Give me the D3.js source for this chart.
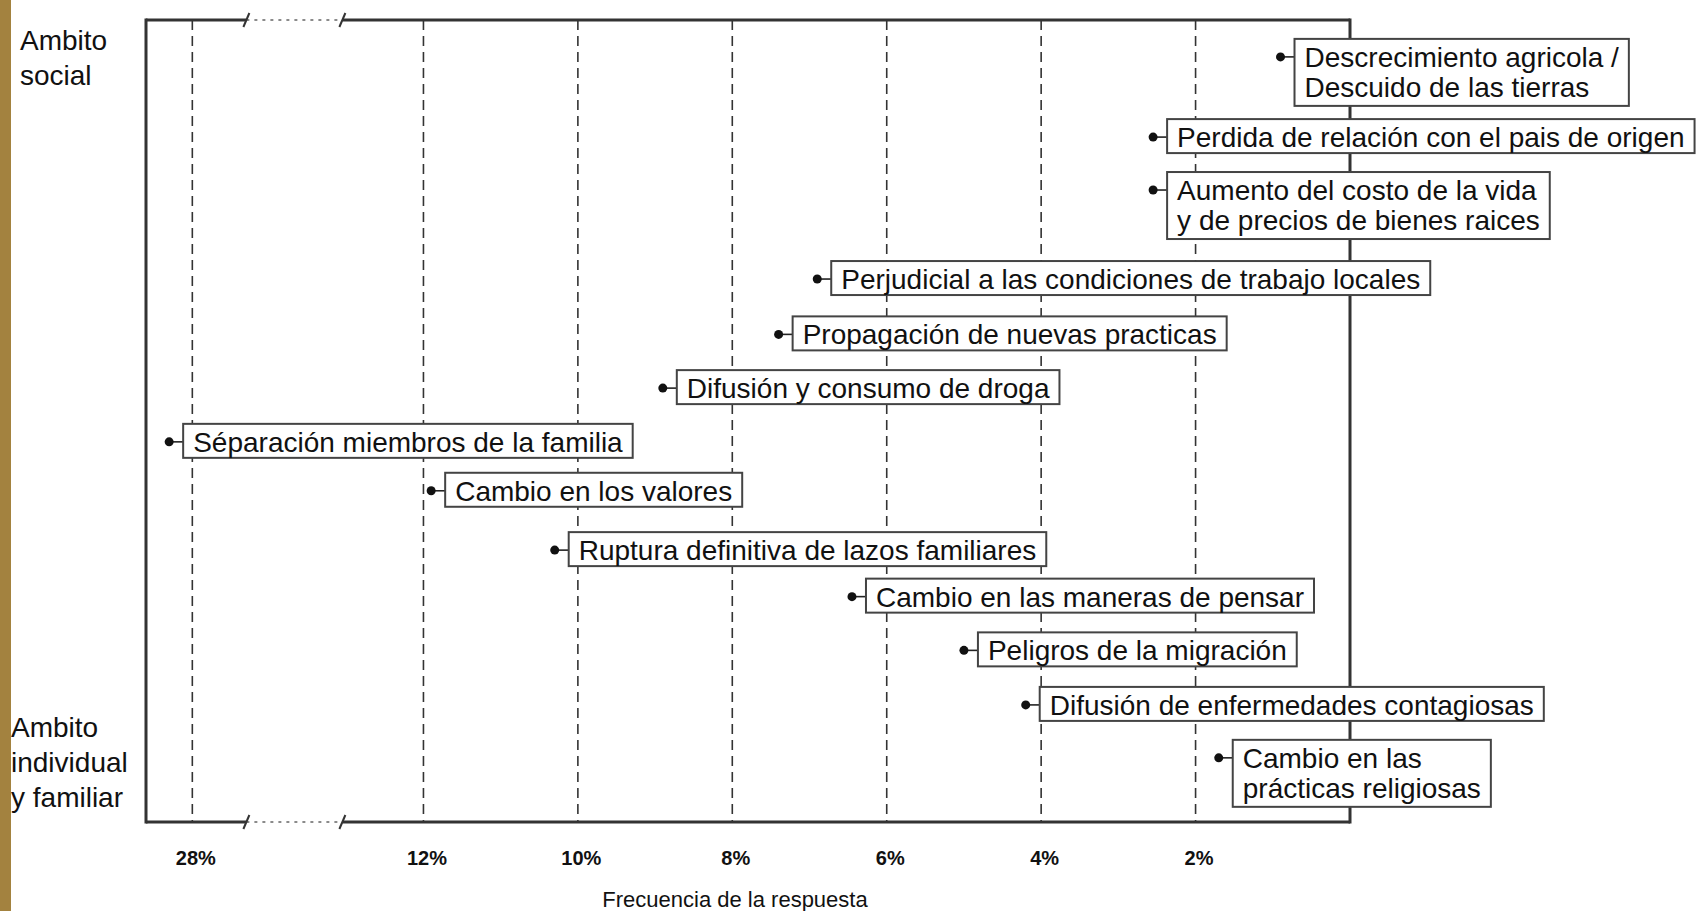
<!DOCTYPE html>
<html>
<head>
<meta charset="utf-8">
<title>Frecuencia de la respuesta</title>
<script src="https://d3js.org/d3.v7.min.js"></script>
<style>
  body { margin: 0; background: #fff; }
  text { font-family: "Liberation Sans", Arial, Helvetica, sans-serif; fill: #111; }
</style>
</head>
<body>
<script>
var width = 1700, height = 911

// texto de cada respuesta, una entrada por linea
var labels = [
  ["Descrecimiento agricola /", "Descuido de las tierras"],
  ["Perdida de relación con el pais de origen"],
  ["Aumento del costo de la vida", "y de precios de bienes raices"],
  ["Perjudicial a las condiciones de trabajo locales"],
  ["Propagación de nuevas practicas"],
  ["Difusión y consumo de droga"],
  ["Séparación miembros de la familia"],
  ["Cambio en los valores"],
  ["Ruptura definitiva de lazos familiares"],
  ["Cambio en las maneras de pensar"],
  ["Peligros de la migración"],
  ["Difusión de enfermedades contagiosas"],
  ["Cambio en las", "prácticas religiosas"]
]
// frecuencia de la respuesta (%)
var freq = [0.9, 2.55, 2.55, 6.9, 7.4, 8.9, 28.3, 11.9, 10.3, 6.45, 5.0, 4.2, 1.7]
// posicion entre ambito social (0) y ambito individual y familiar (100)
var ambito = [4.6, 14.6, 21.2, 32.3, 39.2, 45.9, 52.6, 58.7, 66.1, 71.9, 78.6, 85.4, 92.0]

var ticks = [28, 12, 10, 8, 6, 4, 2]
var tickLabels = ["28%", "12%", "10%", "8%", "6%", "4%", "2%"]
var corte = [27.3, 13.05]   // tramo del eje omitido
var limite = 28.6

var mLeft = 146, mRight = 1350, mTop = 20, mBottom = 822, gap = 96

var unit = (mRight - mLeft - gap) / (limite - corte[0] + corte[1])
var b1 = mLeft + (limite - corte[0]) * unit, b2 = b1 + gap
var x = d3.scaleLinear()
  .domain([limite, corte[0], corte[1], 0])
  .range([mLeft, b1, b2, mRight])
var y = d3.scaleLinear().domain([0, 100]).range([mTop, mBottom])

var svg = d3.select("body").append("svg")
  .attr("width", width)
  .attr("height", height)

svg.append("rect").attr("width", width).attr("height", height).attr("fill", "#fff")

// lineas guia
svg.append("g").selectAll("line")
  .data(ticks)
  .enter().append("line")
    .attr("x1", d => x(d)).attr("x2", d => x(d))
    .attr("y1", mTop).attr("y2", mBottom)
    .attr("stroke", "#333").attr("stroke-width", 1.6)
    .attr("stroke-dasharray", "10,6")

// marco con corte
var frame = svg.append("g").attr("stroke", "#333").attr("fill", "none")
frame.append("line").attr("x1", mLeft).attr("x2", mLeft).attr("y1", mTop - 1.5).attr("y2", mBottom + 1.5).attr("stroke-width", 3)
frame.append("line").attr("x1", mRight).attr("x2", mRight).attr("y1", mTop - 1.5).attr("y2", mBottom + 1.5).attr("stroke-width", 3)
;[mTop, mBottom].forEach(function(yy) {
  frame.append("line").attr("x1", mLeft).attr("x2", b1).attr("y1", yy).attr("y2", yy).attr("stroke-width", 3)
  frame.append("line").attr("x1", b2).attr("x2", mRight).attr("y1", yy).attr("y2", yy).attr("stroke-width", 3)
  frame.append("line").attr("x1", b1).attr("x2", b2).attr("y1", yy).attr("y2", yy)
    .attr("stroke-width", 1.6).attr("stroke", "#666").attr("stroke-dasharray", "3,5")
  ;[b1, b2].forEach(function(bx) {
    frame.append("line").attr("x1", bx - 3).attr("x2", bx + 3).attr("y1", yy + 7).attr("y2", yy - 7).attr("stroke-width", 2)
  })
})

// eje de frecuencias
var axis = svg.append("g")
  .attr("transform", "translate(0," + mBottom + ")")
  .call(d3.axisBottom(x).tickValues(ticks).tickSize(0).tickPadding(29)
    .tickFormat((d, i) => tickLabels[i]))
axis.select(".domain").remove()
axis.selectAll("text")
  .attr("dx", 3)
  .style("font-family", "'Liberation Sans', Arial, sans-serif")
  .style("font-size", "20px").style("font-weight", "bold").attr("fill", "#111")

svg.append("text")
  .attr("x", 735).attr("y", 907)
  .attr("text-anchor", "middle")
  .style("font-size", "22px")
  .text("Frecuencia de la respuesta")

// ambitos
var amb = [
  { lines: ["Ambito", "social"], x: 20, y: 50 },
  { lines: ["Ambito", "individual", "y familiar"], x: 11, y: 737 }
]
amb.forEach(function(a) {
  var t = svg.append("text").attr("x", a.x).attr("y", a.y).style("font-size", "28px")
  t.selectAll("tspan").data(a.lines).enter().append("tspan")
    .attr("x", a.x).attr("dy", (d, i) => i ? 35 : 0).text(d => d)
})

// respuestas
var rows = labels.map((l, i) => ({ lines: l, v: freq[i], a: ambito[i] }))
var g = svg.append("g").selectAll("g")
  .data(rows)
  .enter().append("g")
    .attr("transform", d => "translate(" + x(d.v) + "," + y(d.a) + ")")

g.append("line").attr("x1", 0).attr("x2", 14).attr("y1", 0).attr("y2", 0)
  .attr("stroke", "#222").attr("stroke-width", 1.6)
g.append("circle").attr("r", 4.5).attr("fill", "#111")

var box = g.append("rect")
  .attr("x", 14).attr("y", -18)
  .attr("height", d => 34 + 33 * (d.lines.length - 1))
  .attr("fill", "#fff").attr("stroke", "#444").attr("stroke-width", 2)

var txt = g.append("text").attr("y", 10).style("font-size", "28px")
txt.selectAll("tspan").data(d => d.lines).enter().append("tspan")
  .attr("x", 24).attr("dy", (d, i) => i ? 30 : 0).text(d => d)

txt.each(function(d) {
  var w = d3.max(d3.select(this).selectAll("tspan").nodes(), n => n.getComputedTextLength())
  d.w = w
})
box.attr("width", d => d.w + 20)

// franja lateral
svg.append("rect").attr("x", 0).attr("y", 0).attr("width", 11).attr("height", height).attr("fill", "#a3823f")
</script>
</body>
</html>
